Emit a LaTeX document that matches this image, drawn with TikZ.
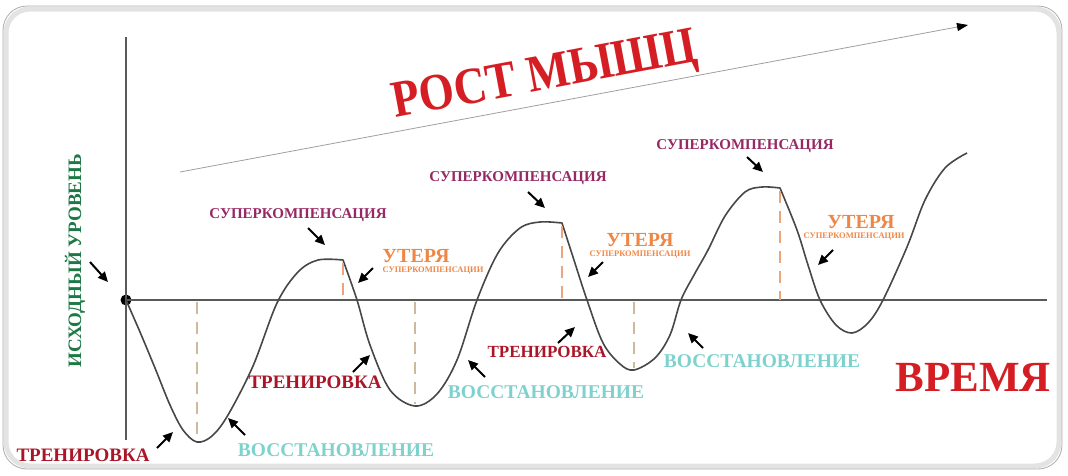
\documentclass[tikz,border=0pt]{standalone}
\usepackage{fontspec}
\setmainfont{Liberation Serif}
\usepackage{xcolor}
\usetikzlibrary{positioning, arrows.meta}

\definecolor{trainred}{RGB}{170,22,40}
\definecolor{growred}{RGB}{212,30,36}
\definecolor{superpurple}{RGB}{150,40,100}
\definecolor{lossorange}{RGB}{238,135,70}
\definecolor{recovcyan}{RGB}{125,210,205}
\definecolor{levelgreen}{RGB}{30,120,70}
\definecolor{droptan}{RGB}{205,185,155}
\definecolor{droporange}{RGB}{235,165,125}

\begin{document}
\begin{tikzpicture}[
    x=1pt, y=-1pt,
    every node/.style={inner sep=0pt},
    train/.style={text=trainred, font=\bfseries\fontsize{19}{19}\selectfont},
    recov/.style={text=recovcyan, font=\bfseries\fontsize{19.5}{19.5}\selectfont},
    superc/.style={text=superpurple, font=\bfseries\fontsize{15}{15}\selectfont},
    loss/.style={text=lossorange, font=\bfseries\fontsize{20}{20}\selectfont},
    losssub/.style={text=lossorange, font=\bfseries\fontsize{8.5}{8.5}\selectfont},
    startlvl/.style={text=levelgreen, font=\bfseries\fontsize{19}{19}\selectfont, rotate=90},
    biglbl/.style={text=growred},
    arrow/.style={-{Triangle[length=10pt,width=9pt]}, line width=2pt},
    growth/.style={draw=gray!75, line width=0.8pt, -{Triangle[length=11pt,width=8pt,color=black]}},
    axis/.style={draw=black!65, line width=1.8pt},
    curve/.style={draw=black!72, line width=1.6pt, line join=round},
    dropline/.style={line width=1.3pt, dash pattern=on 12pt off 8pt},
    frame/.style={rounded corners=24pt}
]
\useasboundingbox (0,0) rectangle (1068,475);

% frame
\draw[frame, gray!22, line width=5pt] (6,9) rectangle (1059,466);
\draw[frame, gray!65, line width=0.8pt] (3,6) rectangle (1062,469);

% axes
\coordinate (ytop) at (126,37);
\coordinate (ybot) at (126,440);
\coordinate (xend) at (1047,300);
\node[circle, fill=black, minimum size=11pt] (start) at (126,300) {};
\draw[axis] (ybot) -- (ytop);
\draw[axis] (start.center) -- (xend);

% growth arrow
\coordinate (gfrom) at (180,172);
\coordinate (gto) at (968,25);
\draw[growth] (gfrom) -- (gto);
\node[biglbl, font=\bfseries\fontsize{52}{52}\selectfont, rotate=10.6, xscale=0.87] (growlbl) at (545,78) {РОСТ МЫШЦ};

% curve
\draw[curve] plot[smooth, tension=0.55] coordinates {(126,300) (140,332) (155,368) (170,405) (183,430) (197,442) (212,436) (228,415) (253,366) (277,303) (298,272) (318,260) (343,260)}
  -- plot[smooth, tension=0.55] coordinates {(343,260) (357,300) (370,345) (390,390) (415,406) (437,394) (457,360) (477,300) (498,253) (520,228) (540,222) (562,223)}
  -- plot[smooth, tension=0.55] coordinates {(562,223) (573,257) (587,300) (603,343) (620,364) (634,370) (655,358) (670,335) (681,300) (694,275) (708,250) (725,216) (745,192) (762,187) (780,188)}
  -- plot[smooth, tension=0.55] coordinates {(780,188) (797,230) (808,265) (820,300) (836,325) (852,333) (868,323) (883,300) (907,247) (925,200) (945,168) (967,153)};

% drop lines
\coordinate (min1) at (197,440);  \coordinate (min1ax) at (197,302);
\coordinate (top1) at (343,263);  \coordinate (top1ax) at (343,300);
\coordinate (min2) at (415,404);  \coordinate (min2ax) at (415,302);
\coordinate (top2) at (562,226);  \coordinate (top2ax) at (562,300);
\coordinate (min3) at (634,368);  \coordinate (min3ax) at (634,302);
\coordinate (top3) at (780,191);  \coordinate (top3ax) at (780,300);
\draw[dropline, droptan] (min1ax) -- (min1);
\draw[dropline, droptan] (min2ax) -- (min2);
\draw[dropline, droptan] (min3ax) -- (min3);
\draw[dropline, droporange] (top1) -- (top1ax);
\draw[dropline, droporange] (top2) -- (top2ax);
\draw[dropline, droporange] (top3) -- (top3ax);

% labels
\node[startlvl] (level) at (75,261) {ИСХОДНЫЙ УРОВЕНЬ};
\node[train] (train1) at (83,455) {ТРЕНИРОВКА};
\node[train] (train2) at (315,382) {ТРЕНИРОВКА};
\node[train, font=\bfseries\fontsize{17}{17}\selectfont] (train3) at (547,352) {ТРЕНИРОВКА};
\node[recov] (recov1) at (336,450) {ВОССТАНОВЛЕНИЕ};
\node[recov] (recov2) at (546,392) {ВОССТАНОВЛЕНИЕ};
\node[recov] (recov3) at (762,361) {ВОССТАНОВЛЕНИЕ};
\node[superc] (super1) at (298,215) {СУПЕРКОМПЕНСАЦИЯ};
\node[superc] (super2) at (518,178) {СУПЕРКОМПЕНСАЦИЯ};
\node[superc] (super3) at (745,146) {СУПЕРКОМПЕНСАЦИЯ};
\node[loss] (loss1) at (416,256) {УТЕРЯ};
\node[losssub] (losssub1) [below=4pt of loss1, xshift=17pt] {СУПЕРКОМПЕНСАЦИИ};
\node[loss] (loss2) at (640,240) {УТЕРЯ};
\node[losssub] (losssub2) [below=4pt of loss2] {СУПЕРКОМПЕНСАЦИИ};
\node[loss] (loss3) at (861,222) {УТЕРЯ};
\node[losssub] (losssub3) [below=4pt of loss3, xshift=-7pt] {СУПЕРКОМПЕНСАЦИИ};
\node[biglbl, font=\bfseries\fontsize{43}{43}\selectfont] (time) at (973,377) {ВРЕМЯ};

% pointers
\coordinate (levelfrom) at (90,262);    \coordinate (levelto) at (108,282);
\coordinate (train1from) at (157,448);  \coordinate (train1to) at (173,432);
\coordinate (recov1from) at (245,435);  \coordinate (recov1to) at (228,418);
\coordinate (super1from) at (308,228);  \coordinate (super1to) at (325,245);
\coordinate (loss1from) at (373,268);   \coordinate (loss1to) at (358,283);
\coordinate (train2from) at (353,372);  \coordinate (train2to) at (370,355);
\coordinate (recov2from) at (485,377);  \coordinate (recov2to) at (468,360);
\coordinate (super2from) at (528,192);  \coordinate (super2to) at (545,208);
\coordinate (loss2from) at (603,262);   \coordinate (loss2to) at (588,277);
\coordinate (train3from) at (558,343);  \coordinate (train3to) at (575,327);
\coordinate (recov3from) at (703,348);  \coordinate (recov3to) at (688,333);
\coordinate (super3from) at (747,157);  \coordinate (super3to) at (763,172);
\coordinate (loss3from) at (833,250);   \coordinate (loss3to) at (818,265);
\foreach \p in {level,train1,recov1,super1,loss1,train2,recov2,super2,loss2,train3,recov3,super3,loss3}
  \draw[arrow] (\p from) -- (\p to);

\end{tikzpicture}
\end{document}
